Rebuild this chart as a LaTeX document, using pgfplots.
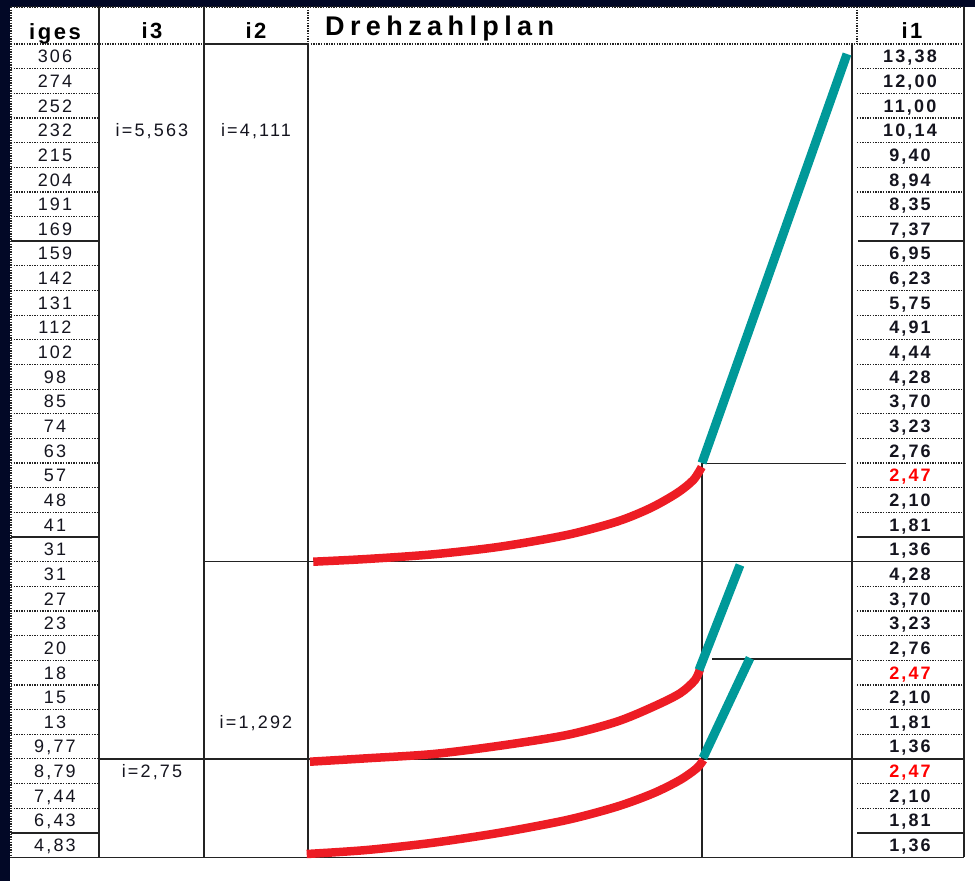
\documentclass[border=0pt]{standalone}
\usepackage{pgfplots}
\pgfplotsset{compat=1.18}
\usepackage{fontspec}
\setmainfont{Liberation Sans}
\newfontfamily\valfont[LetterSpace=12]{Liberation Sans}
\newfontfamily\headfont[LetterSpace=12]{Liberation Sans}
\newfontfamily\titlefont[LetterSpace=20]{Liberation Sans}
\definecolor{navy}{RGB}{2,8,38}
\definecolor{gridc}{RGB}{35,35,35}
\definecolor{curvered}{RGB}{237,28,36}
\definecolor{tealc}{RGB}{0,153,153}
\definecolor{txt}{RGB}{20,20,30}

\pgfplotsset{
  txtplot/.style={draw=none, mark=none, nodes near coords, point meta=explicit symbolic,
    every node near coord/.append style={anchor=center, inner sep=0pt, text height=12.9pt, text depth=0pt}},
  headplot/.style={draw=none, mark=none, nodes near coords, point meta=explicit symbolic,
    every node near coord/.append style={anchor=base, inner sep=0pt}},
}

\begin{document}
\begin{tikzpicture}
\begin{axis}[
  scale only axis, width=975pt, height=881pt,
  xmin=0, xmax=975, ymin=0, ymax=881, y dir=reverse,
  hide axis, clip=false,
]
% background
\addplot[fill=navy, draw=none] coordinates {(0,0) (975,0) (975,881) (0,881)};
\addplot[fill=white, draw=none] coordinates {(10,7) (975,7) (975,881) (10,881)};

% dotted grid lines
\addplot[quiver={u=\thisrow{u}, v=\thisrow{v}}, gridc, line width=1.2pt, dash pattern=on 1.3pt off 1.3pt] table {
x y u v
11 7 953 0
11 44 193 0
308 44 656 0
11 7 0 850.45
308 7 0 37
857 7 0 37
11 68.65 88 0
11 93.3 88 0
11 117.95 88 0
11 142.6 88 0
11 167.25 88 0
11 191.9 88 0
11 216.55 88 0
11 265.85 88 0
11 290.5 88 0
11 315.15 88 0
11 339.8 88 0
11 364.45 88 0
11 389.1 88 0
11 413.75 88 0
11 438.4 88 0
11 463.05 88 0
11 487.7 88 0
11 512.35 88 0
11 561.65 88 0
11 586.3 88 0
11 610.95 88 0
11 635.6 88 0
11 660.25 88 0
11 684.9 88 0
11 709.55 88 0
11 734.2 88 0
11 758.85 88 0
11 783.5 88 0
11 808.15 88 0
857 68.65 107 0
857 93.3 107 0
857 117.95 107 0
857 142.6 107 0
857 167.25 107 0
857 191.9 107 0
857 216.55 107 0
857 265.85 107 0
857 290.5 107 0
857 315.15 107 0
857 339.8 107 0
857 364.45 107 0
857 389.1 107 0
857 413.75 107 0
857 438.4 107 0
857 463.05 107 0
857 487.7 107 0
857 512.35 107 0
857 586.3 107 0
857 610.95 107 0
857 635.6 107 0
857 660.25 107 0
857 684.9 107 0
857 709.55 107 0
857 734.2 107 0
857 783.5 107 0
857 808.15 107 0
};

% solid grid lines
\addplot[quiver={u=\thisrow{u}, v=\thisrow{v}}, gridc, line width=1.6pt] table {
x y u v
99 7 0 850.45
204 7 0 850.45
308 44 0 813.45
852 44 0 813.45
964 7 0 850.45
702 463 0 394.45
11 857.45 953 0
204 44 104 0
204 561.65 760 0
99 758.85 865 0
702 463.5 144 0
712 659 140 0
11 241.2 88 0
11 537 88 0
11 832.8 88 0
858 241.2 106 0
857 537 107 0
857 832.8 107 0
};

% red curves
\addplot[curvered, line width=8.5pt, smooth] coordinates {
(313.3,561.7) (366.7,559) (433.3,554.3) (500,546.7) (566.7,535) (616.7,521.7) (650,508.3) (676.7,493.3) (693.3,480) (701.7,467)
};
\addplot[curvered, line width=8.5pt, smooth] coordinates {
(310,761.7) (366.7,758.3) (433.3,754) (500,745.7) (566.7,735) (616.7,721.7) (653.3,706.7) (680,693.3) (695,680) (700,669)
};
\addplot[curvered, line width=8.5pt, smooth] coordinates {
(306.7,854) (366.7,850) (433.3,842.7) (500,832.7) (566.7,820) (616.7,806.7) (653.3,793.3) (680,780) (696.7,768.3) (703.3,760)
};

% teal lines
\addplot[tealc, line width=9pt] coordinates {(702,463) (847,54)};
\addplot[tealc, line width=9pt] coordinates {(699,670) (740,565)};
\addplot[tealc, line width=9pt] coordinates {(703,758) (750,658)};

% headers
\addplot[headplot, every node near coord/.append style={font=\headfont\bfseries\fontsize{22}{24}\selectfont, text=black}] table[meta=label] {
x y label
55 39 iges
152 38 i3
256 38 i2
912 38 i1
};
\addplot[headplot, every node near coord/.append style={anchor=base west, font=\titlefont\bfseries\fontsize{27}{29}\selectfont, text=black}] table[meta=label] {
x y label
325 35 Drehzahlplan
};

% iges column
\addplot[txtplot, every node near coord/.append style={font=\valfont\fontsize{18}{20}\selectfont, text=txt}] table[meta=label] {
x y label
55 56.3 306
55 81.0 274
55 105.6 252
55 130.3 232
55 154.9 215
55 179.6 204
55 204.2 191
55 228.9 169
55 253.5 159
55 278.2 142
55 302.8 131
55 327.5 112
55 352.1 102
55 376.8 98
55 401.4 85
55 426.1 74
55 450.7 63
55 475.4 57
55 500.0 48
55 524.7 41
55 549.3 31
55 574.0 31
55 598.6 27
55 623.3 23
55 647.9 20
55 672.6 18
55 697.2 15
55 721.9 13
55 746.5 9,77
55 771.2 8,79
55 795.8 7,44
55 820.5 6,43
55 845.1 4,83
};

% ratio labels
\addplot[txtplot, every node near coord/.append style={font=\valfont\fontsize{18}{20}\selectfont, text=txt}] table[meta=label] {
x y label
152 130.3 i=5,563
256 130.3 i=4,111
256 721.9 i=1,292
152 771.2 i=2,75
};

% i1 column
\addplot[txtplot, every node near coord/.append style={font=\valfont\bfseries\fontsize{18}{20}\selectfont, text=txt}] table[meta=label] {
x y label
910 56.3 13,38
910 81.0 12,00
910 105.6 11,00
910 130.3 10,14
910 154.9 9,40
910 179.6 8,94
910 204.2 8,35
910 228.9 7,37
910 253.5 6,95
910 278.2 6,23
910 302.8 5,75
910 327.5 4,91
910 352.1 4,44
910 376.8 4,28
910 401.4 3,70
910 426.1 3,23
910 450.7 2,76
910 500.0 2,10
910 524.7 1,81
910 549.3 1,36
910 574.0 4,28
910 598.6 3,70
910 623.3 3,23
910 647.9 2,76
910 697.2 2,10
910 721.9 1,81
910 746.5 1,36
910 795.8 2,10
910 820.5 1,81
910 845.1 1,36
};
\addplot[txtplot, every node near coord/.append style={font=\valfont\bfseries\fontsize{18}{20}\selectfont, text=red}] table[meta=label] {
x y label
910 475.4 2,47
910 672.6 2,47
910 771.2 2,47
};
\end{axis}
\end{tikzpicture}
\end{document}
